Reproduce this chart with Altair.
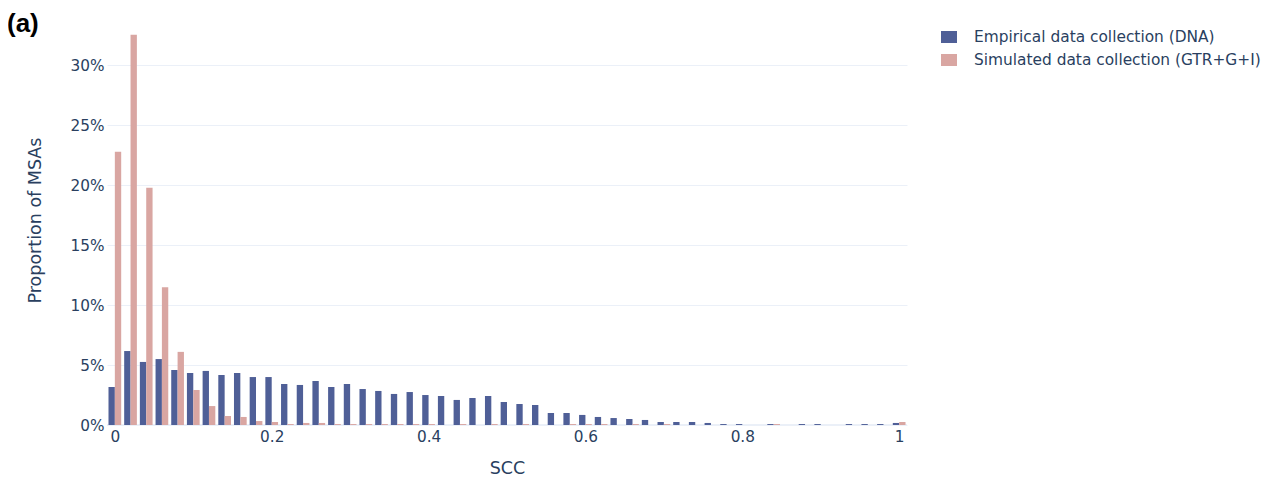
import altair as alt
import pandas as pd

# Bin centres (SCC)
scc = [0.00, 0.02, 0.04, 0.06, 0.08, 0.10, 0.12, 0.14, 0.16, 0.18,
       0.20, 0.22, 0.24, 0.26, 0.28, 0.30, 0.32, 0.34, 0.36, 0.38,
       0.40, 0.42, 0.44, 0.46, 0.48, 0.50, 0.52, 0.54, 0.56, 0.58,
       0.60, 0.62, 0.64, 0.66, 0.68, 0.70, 0.72, 0.74, 0.76, 0.78,
       0.80, 0.82, 0.84, 0.86, 0.88, 0.90, 0.92, 0.94, 0.96, 0.98, 1.00]

# Proportion of MSAs (%)
empirical = [3.17, 6.17, 5.26, 5.50, 4.59, 4.34, 4.51, 4.17, 4.34, 4.00,
             4.00, 3.42, 3.34, 3.67, 3.17, 3.42, 3.00, 2.84, 2.59, 2.75,
             2.50, 2.42, 2.09, 2.25, 2.42, 1.92, 1.75, 1.67, 1.00, 1.00,
             0.84, 0.67, 0.58, 0.50, 0.42, 0.25, 0.25, 0.25, 0.17, 0.08,
             0.08, 0.00, 0.08, 0.00, 0.08, 0.08, 0.00, 0.08, 0.08, 0.08, 0.17]

simulated = [22.80, 32.55, 19.80, 11.50, 6.10, 2.92, 1.58, 0.75, 0.67, 0.33,
             0.25, 0.08, 0.17, 0.17, 0.08, 0.08, 0.08, 0.08, 0.08, 0.08,
             0.08, 0.00, 0.08, 0.00, 0.08, 0.00, 0.08, 0.00, 0.00, 0.08,
             0.08, 0.08, 0.00, 0.08, 0.00, 0.08, 0.00, 0.00, 0.00, 0.00,
             0.00, 0.00, 0.08, 0.00, 0.00, 0.00, 0.00, 0.00, 0.00, 0.00, 0.25]

series_names = ["Empirical data collection (DNA)", "Simulated data collection (GTR+G+I)"]
series_colors = ["#4F5F97", "#D9A6A2"]

y_ticks = [0, 0.05, 0.10, 0.15, 0.20, 0.25, 0.30]
x_ticks = [0, 0.2, 0.4, 0.6, 0.8, 1.0]

rows = []
for i, c in enumerate(scc):
    rows.append({"scc": c, "series": series_names[0], "idx": 0, "value": empirical[i] / 100})
    rows.append({"scc": c, "series": series_names[1], "idx": 1, "value": simulated[i] / 100})
df = pd.DataFrame(rows)

FONT = "DejaVu Sans"
TXT = "#2a3f5f"
GRID = "#EBF0F8"

x_scale = alt.Scale(domain=[-0.01, 1.01], nice=False, zero=False, padding=0)
y_scale = alt.Scale(domain=[0, 0.342], nice=False, padding=0)

bars = alt.Chart(df).transform_calculate(
    x0="datum.scc - 0.0081 + datum.idx * 0.0081",
    x1="datum.scc + datum.idx * 0.0081",
).mark_bar().encode(
    x=alt.X("x0:Q", scale=x_scale, title="SCC",
            axis=alt.Axis(values=x_ticks, format="~g", grid=False, domain=False,
                          ticks=False, tickSize=0, labelPadding=4, labelFlush=False,
                          labelFont=FONT, labelFontSize=15.3, labelColor=TXT,
                          titleFont=FONT, titleFontSize=17.5, titleColor=TXT,
                          titleFontWeight="normal", titlePadding=15)),
    x2="x1:Q",
    y=alt.Y("value:Q", scale=y_scale, title="Proportion of MSAs",
            axis=alt.Axis(values=y_ticks, format=".0%", grid=True, gridColor=GRID,
                          gridWidth=1, domain=False, ticks=False, tickSize=0,
                          labelPadding=3, labelFont=FONT, labelFontSize=15.3,
                          labelColor=TXT, titleFont=FONT, titleFontSize=17.5,
                          titleColor=TXT, titleFontWeight="normal", titlePadding=26)),
    y2=alt.datum(0),
    color=alt.Color("series:N",
                    scale=alt.Scale(domain=series_names, range=series_colors),
                    legend=alt.Legend(title=None, orient="none", legendX=834, legendY=14,
                                      symbolType="M-1,-0.75L1,-0.75L1,0.75L-1,0.75Z",
                                      symbolSize=256, symbolStrokeWidth=0,
                                      symbolOpacity=1, labelLimit=400,
                                      labelFont=FONT, labelFontSize=15.4, labelColor=TXT,
                                      labelOffset=17, rowPadding=6)),
)

zero = alt.Chart(pd.DataFrame({"z": [0]})).mark_rule(
    stroke=GRID, strokeWidth=2
).encode(y=alt.Y("z:Q", scale=y_scale), x=alt.value(0), x2=alt.value(800))

label = alt.Chart(pd.DataFrame({"t": ["(a)"]})).mark_text(
    align="left", baseline="alphabetic", font="Liberation Sans",
    fontSize=26, fontWeight="bold", color="black"
).encode(text="t:N", x=alt.value(-100), y=alt.value(16.5))

chart = alt.layer(zero, bars, label).properties(
    width=800, height=410,
    autosize=alt.AutoSizeParams(type="none"),
    padding={"left": 99, "top": 7, "right": 356, "bottom": 55},
    background="white",
).configure_view(stroke=None)

chart.save("out.html", embed_options={"renderer": "svg", "actions": False})
